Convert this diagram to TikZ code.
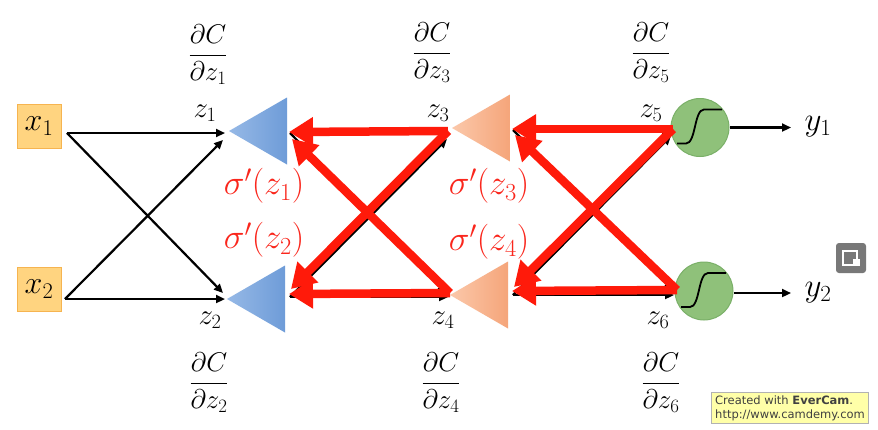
\RequirePackage{fix-cm}
\documentclass[tikz,border=0pt]{standalone}
\usepackage{fontspec}
\newfontfamily\wmfont{DejaVu Sans}
\usetikzlibrary{arrows.meta,calc}
\definecolor{boxfill}{RGB}{255,212,128}
\definecolor{boxdraw}{RGB}{246,180,80}
\definecolor{blueA}{RGB}{150,185,230}
\definecolor{blueB}{RGB}{110,156,216}
\definecolor{orA}{RGB}{251,200,170}
\definecolor{orB}{RGB}{245,165,122}
\definecolor{grnF}{RGB}{143,193,122}
\definecolor{grnD}{RGB}{122,176,104}
\definecolor{redA}{RGB}{255,26,10}
\definecolor{sigred}{RGB}{250,38,28}
\definecolor{wmfill}{RGB}{255,255,168}
\definecolor{icongray}{RGB}{120,120,120}
\tikzset{
  lab/.style={font=\fontsize{29}{34}\selectfont, inner sep=0pt},
  fraclab/.style={font=\fontsize{27}{32}\selectfont, inner sep=0pt},
  sig/.style={font=\fontsize{35}{40}\selectfont, text=sigred, inner sep=0pt},
  xbox/.style={draw=boxdraw, fill=boxfill, line width=1pt, minimum size=44pt, inner sep=0pt, font=\fontsize{32}{36}\selectfont},
  fwd/.style={line width=2.2pt, -{Triangle[length=9pt,width=8pt]}},
  back/.style={draw=redA, line width=8.5pt, -{Triangle[length=24pt,width=28pt]}, line join=round},
  neuron/.style={circle, fill=grnF, draw=grnD, line width=1pt, minimum size=58pt, inner sep=0pt},
  sigm/.style={line width=1.8pt},
}
\begin{document}
\begin{tikzpicture}[x=1pt,y=-1pt]
\useasboundingbox (0,0) rectangle (878,429);
\fill[white] (0,0) rectangle (878,429);

% inputs
\node[xbox] (x1) at (39,126) {$x_1$};
\node[xbox] (x2) at (39,289) {$x_2$};

% coordinates for forward arrows
\coordinate (a1) at (67,133);
\coordinate (a2) at (65,299);
\coordinate (t1) at (225,133);
\coordinate (t1d) at (223,140);
\coordinate (t2) at (225,299);
\coordinate (t2d) at (223,293);

\coordinate (s1) at (290,133);
\coordinate (s2) at (290,297);
\coordinate (u3) at (447,133);
\coordinate (u3d) at (447,139);
\coordinate (u4) at (448,297);
\coordinate (u4d) at (447,292);

\coordinate (s3) at (513,130);
\coordinate (s4) at (513,295);
\coordinate (u5) at (671,130);
\coordinate (u5d) at (671,136);
\coordinate (u6) at (674,295);
\coordinate (u6d) at (673,290);

\draw[fwd] (a1) -- (t1);
\draw[fwd] (a1) -- (t2d);
\draw[fwd] (a2) -- (t2);
\draw[fwd] (a2) -- (t1d);

\draw[fwd] (s1) -- (u3);
\draw[fwd] (s1) -- (u4d);
\draw[fwd] (s2) -- (u4);
\draw[fwd] (s2) -- (u3d);

\draw[fwd] (s3) -- (u5);
\draw[fwd] (s3) -- (u6d);
\draw[fwd] (s4) -- (u6);
\draw[fwd] (s4) -- (u5d);

% triangles
\coordinate (tri1) at (229,131);
\coordinate (tri2) at (227,299);
\coordinate (tri3) at (452,128);
\coordinate (tri4) at (450,295);
\shade[left color=blueA,right color=blueB] (tri1) -- ++(58,-33.5) -- ++(0,67) -- cycle;
\shade[left color=blueA,right color=blueB] (tri2) -- ++(58,-33.5) -- ++(0,67) -- cycle;
\shade[left color=orA,right color=orB] (tri3) -- ++(58,-33.5) -- ++(0,67) -- cycle;
\shade[left color=orA,right color=orB] (tri4) -- ++(58,-33.5) -- ++(0,67) -- cycle;

% output neurons
\node[neuron] (n5) at (700,127.5) {};
\node[neuron] (n6) at (704,291) {};
\foreach \n in {n5,n6}{
  \draw[sigm] ($(\n)+(-23,16)$) -- ($(\n)+(-14,16)$) .. controls ($(\n)+(-4,16)$) and ($(\n)+(-6,-18)$) .. ($(\n)+(4,-18)$) -- ($(\n)+(22,-18)$);
}

% outputs
\node[lab, font=\fontsize{33}{38}\selectfont] (y1) at (818,127) {$y_1$};
\node[lab, font=\fontsize{33}{38}\selectfont] (y2) at (818,293) {$y_2$};
\coordinate (y1in) at (791,127.5);
\coordinate (y2in) at (791,293);
\draw[fwd] (n5.east) -- (y1in);
\draw[fwd] (n6.east |- y2in) -- (y2in);

% red backward arrows
\coordinate (r3) at (448,131);
\coordinate (r4) at (450,293);
\coordinate (q1) at (289,132);
\coordinate (q1d) at (292,139);
\coordinate (q2) at (289,294);
\coordinate (q2d) at (291,289);
\coordinate (r5) at (673,129);
\coordinate (r6) at (677,290);
\coordinate (q3) at (512,129);
\coordinate (q3d) at (515,135);
\coordinate (q4) at (512,291);
\coordinate (q4d) at (514,287);

\draw[back] (r3) -- (q1);
\draw[back] (r3) -- (q2d);
\draw[back] (r4) -- (q2);
\draw[back] (r4) -- (q1d);
\draw[back] (r5) -- (q3);
\draw[back] (r5) -- (q4d);
\draw[back] (r6) -- (q4);
\draw[back] (r6) -- (q3d);

% z labels
\node[lab] (z1) at (205,113) {$z_1$};
\node[lab] (z2) at (210,320) {$z_2$};
\node[lab] (z3) at (438,113) {$z_3$};
\node[lab] (z4) at (443,320) {$z_4$};
\node[lab] (z5) at (651,113) {$z_5$};
\node[lab] (z6) at (658,320) {$z_6$};

% fractions
\node[fraclab] (f1) at (208,55) {$\displaystyle\frac{\partial C}{\partial z_1}$};
\node[fraclab] (f2) at (209,383) {$\displaystyle\frac{\partial C}{\partial z_2}$};
\node[fraclab] (f3) at (432,53) {$\displaystyle\frac{\partial C}{\partial z_3}$};
\node[fraclab] (f4) at (441,383) {$\displaystyle\frac{\partial C}{\partial z_4}$};
\node[fraclab] (f5) at (651,53) {$\displaystyle\frac{\partial C}{\partial z_5}$};
\node[fraclab] (f6) at (661,383) {$\displaystyle\frac{\partial C}{\partial z_6}$};

% sigma' labels
\node[sig] (g1) at (264,186) {$\sigma'(z_1)$};
\node[sig] (g2) at (264,240) {$\sigma'(z_2)$};
\node[sig] (g3) at (489,186) {$\sigma'(z_3)$};
\node[sig] (g4) at (489,242) {$\sigma'(z_4)$};

% overlay icon
\node[fill=icongray, rounded corners=3pt, minimum size=30pt, inner sep=0pt] (ic) at (851,258) {};
\draw[white, line width=1.5pt] ($(ic)+(-8,-7)$) rectangle ($(ic)+(6,7)$);
\fill[white] ($(ic)+(2,1)$) rectangle ($(ic)+(9,8)$);

% watermark
\node[draw=gray!60, fill=wmfill, line width=0.8pt, align=left, inner xsep=4pt, inner ysep=3pt,
      font=\wmfont\fontsize{11.5}{14}\selectfont, text=black!75] (wm) at (790,408)
      {Created with \textbf{EverCam}.\\http://www.camdemy.com};
\end{tikzpicture}
\end{document}
